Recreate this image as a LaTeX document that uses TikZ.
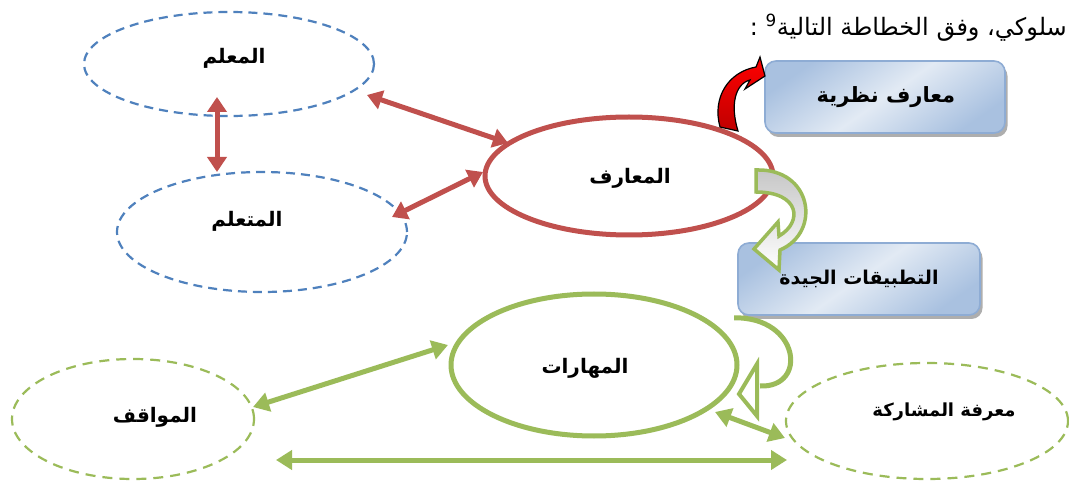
\documentclass[tikz,border=0pt]{standalone}
\usepackage{fontspec}
\usetikzlibrary{shapes.geometric,arrows.meta,calc,shadows}
\newfontfamily\arfont[Script=Arabic]{DejaVu Sans}
\TeXXeTstate=1
\definecolor{eblue}{HTML}{4F81BD}
\definecolor{ered}{HTML}{C0504D}
\definecolor{egreen}{HTML}{9BBB59}
\definecolor{boxline}{HTML}{8EACD4}
\definecolor{boxdark}{HTML}{A9C1E0}
\definecolor{boxlight}{HTML}{E2EAF4}
\tikzset{
  dashblue/.style={ellipse, draw=eblue, line width=2.2pt, dash pattern=on 9pt off 6pt, inner sep=0pt, outer sep=0pt},
  dashgreen/.style={ellipse, draw=egreen, line width=2.2pt, dash pattern=on 10pt off 7pt, inner sep=0pt, outer sep=0pt},
  solidred/.style={ellipse, draw=ered, line width=5pt, inner sep=0pt, outer sep=0pt},
  solidgreen/.style={ellipse, draw=egreen, line width=5pt, inner sep=0pt, outer sep=0pt},
  lbl/.style={font=\arfont\bfseries\fontsize{20}{22}\selectfont, inner sep=0pt},
  bluebox/.style={rounded corners=11pt, draw=boxline, line width=1.6pt,
     shading=axis, top color=boxdark, bottom color=boxdark, middle color=boxlight, shading angle=35,
     drop shadow={shadow xshift=2.5pt, shadow yshift=-4pt, fill=black!45, opacity=0.7},
     minimum width=240pt, minimum height=72pt, inner sep=0pt},
  redarr/.style={draw=ered, line width=5pt, {Triangle[length=15pt,width=19pt]}-{Triangle[length=15pt,width=19pt]}},
  greenarr/.style={draw=egreen, line width=5pt, {Triangle[length=16pt,width=19pt]}-{Triangle[length=16pt,width=19pt]}}
}
\begin{document}
\begin{tikzpicture}[x=1pt,y=-1pt]
\useasboundingbox (0,0) rectangle (1069,481);
\fill[white] (0,0) rectangle (1069,481);

% header
\node[anchor=base east, font=\arfont\fontsize{24}{28}\selectfont, inner sep=0pt] (hdr) at (1067,36)
  {\beginR سلوكي، وفق الخطاطة التالية\textsuperscript{9} :\endR};

% ellipses
\node[dashblue, minimum width=290pt, minimum height=104pt] (E1) at (229,64) {};
\node[dashblue, minimum width=290pt, minimum height=120pt] (E2) at (262,232) {};
\node[solidred, minimum width=288pt, minimum height=118pt] (E3) at (629,176) {};
\node[solidgreen, minimum width=286pt, minimum height=142pt] (E4) at (594,365) {};
\node[dashgreen, minimum width=242pt, minimum height=120pt] (E5) at (133,419) {};
\node[dashgreen, minimum width=282pt, minimum height=116pt] (E6) at (927,421) {};

% labels
\node[lbl] (T1) at (234,58) {\beginR المعلم\endR};
\node[lbl] (T2) at (247,221) {\beginR المتعلم\endR};
\node[lbl] (T3) at (630,178) {\beginR المعارف\endR};
\node[lbl] (T4) at (585,368) {\beginR المهارات\endR};
\node[lbl] (T5) at (155,417) {\beginR المواقف\endR};
\node[lbl, font=\arfont\bfseries\fontsize{18}{20}\selectfont] (T6) at (944,412) {\beginR معرفة المشاركة\endR};

% boxes
\node[bluebox] (B1) at (885,97) {};
\node[bluebox, minimum width=242pt] (B2) at (859,279) {};

% red double arrows
\draw[redarr] ($(E1.center)+(-12,33)$) -- ($(E2.center)+(-45,-60)$);
\draw[redarr] ($(E1.center)+(138,31)$) -- ($(E3.center)+(-121,-33)$);
\draw[redarr] ($(E2.center)+(130,-15)$) -- ($(E3.center)+(-146,-4)$);

% green double arrows
\draw[greenarr] ($(E5.center)+(120,-12)$) -- ($(E4.center)+(-146,-20)$);
\draw[greenarr] ($(E5.center)+(143,41)$) -- ($(E6.center)+(-140,39)$);
\draw[greenarr] ($(E4.center)+(121,47)$) -- ($(E6.center)+(-142,17)$);

% red curved arrow towards box 1
\path[draw=black, line width=1.2pt, top color=red, bottom color=red!75!black, line join=miter]
  (720,127) .. controls (712,98) and (728,72) .. (756,67) -- (760,57) -- (765,76) -- (745,89) -- (750,80)
  .. controls (735,84) and (730,105) .. (738,131) -- cycle;

% green curved block arrow
\path[draw=egreen, line width=3.5pt, top color=gray!45, bottom color=white, line join=miter]
  (756,170) .. controls (812,168) and (822,232) .. (780,250) -- (779,270) -- (754,249) -- (778,222) -- (779,236)
  .. controls (803,222) and (800,192) .. (756,192) -- cycle;

% box texts
\node[lbl, font=\arfont\bfseries\fontsize{21}{24}\selectfont] (B1t) at (886,97) {\beginR معارف نظرية\endR};
\node[lbl, font=\arfont\bfseries\fontsize{19}{22}\selectfont] (B2t) at (859,279) {\beginR التطبيقات الجيدة\endR};

% green curved line arrow
\coordinate (c1) at ($(B2.south west)+(-3,2)$);
\draw[egreen, line width=5pt] (c1) .. controls (800,317) and (808,388) .. (760,386);
\draw[egreen, line width=4pt, fill=white, line join=miter] (757,364) -- (739,394) -- (757,416) -- cycle;
\end{tikzpicture}
\end{document}
